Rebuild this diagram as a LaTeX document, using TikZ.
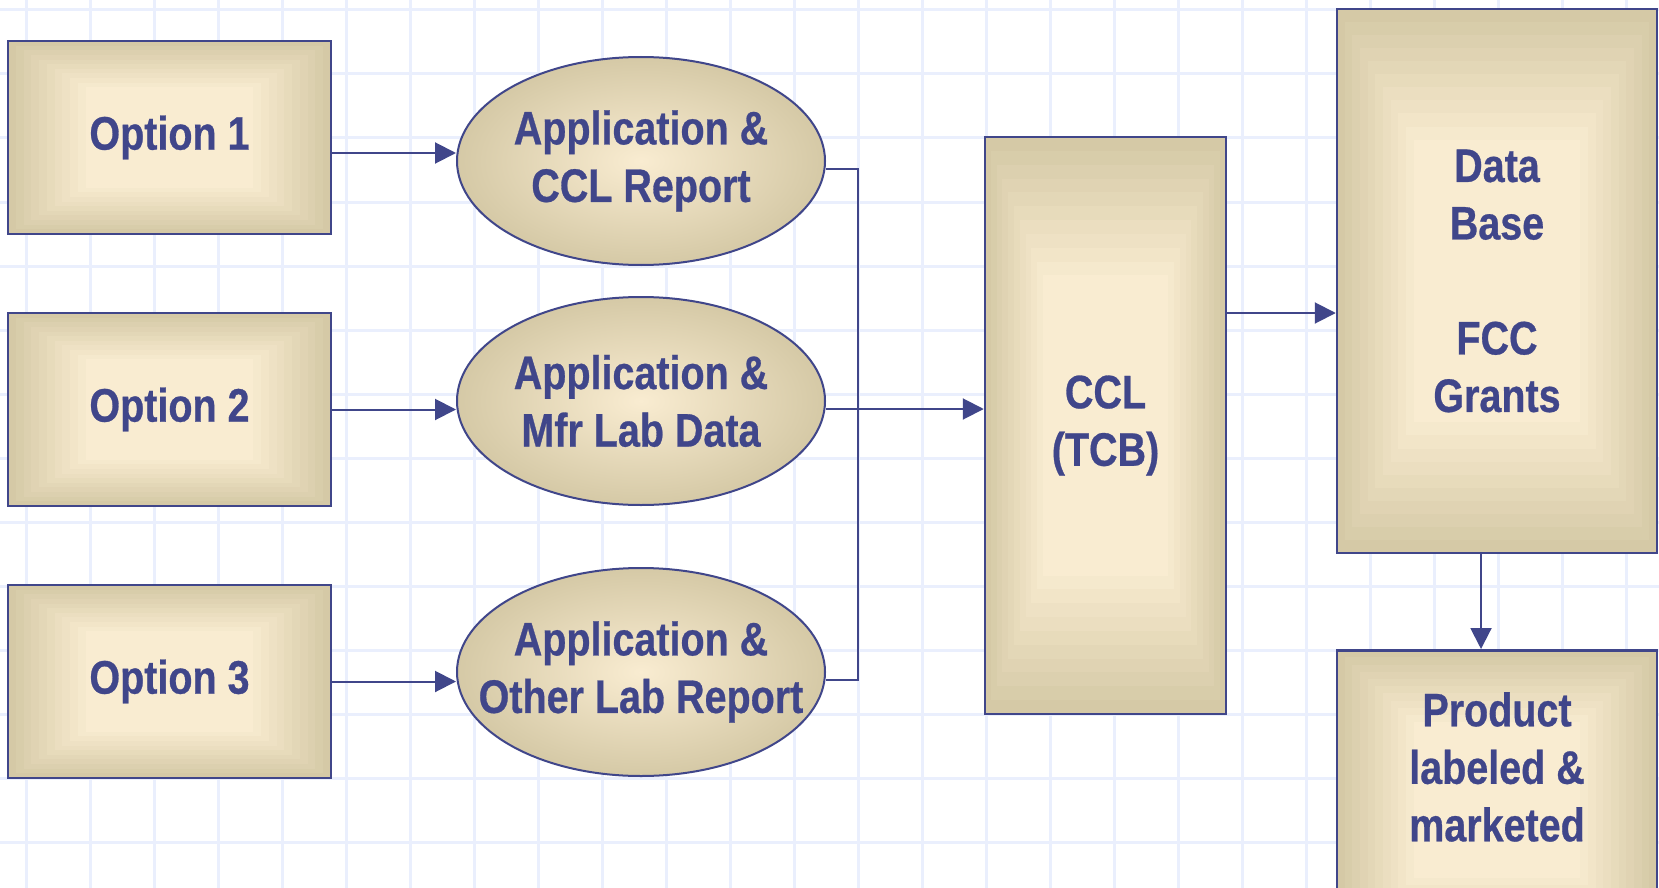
\documentclass[tikz,border=0pt]{standalone}
\usepackage{fontspec}
\newfontfamily\labelfont{Liberation Sans}[FakeStretch=0.84,BoldFeatures={FakeBold=0.6}]
\usetikzlibrary{shapes.geometric,arrows.meta,calc}
\definecolor{inkblue}{RGB}{64,70,138}
\definecolor{gridblue}{RGB}{234,239,253}
\definecolor{tanband}{RGB}{213,201,166}
\definecolor{creamband}{RGB}{249,236,209}
\tikzset{
  boxtext/.style={align=center,text=inkblue,inner sep=0pt,
    font=\labelfont\bfseries\fontsize{47}{57.5}\selectfont},
  bandbox/.style={boxtext,rectangle,draw=inkblue,line width=2.5pt,
    path picture={
      \foreach \k in {0,...,10}{
        \pgfmathsetmacro{\mix}{100-\k*10}
        \fill[tanband!\mix!creamband]
          ($(path picture bounding box.south west)!\k*0.024!(path picture bounding box.north east)$)
          rectangle
          ($(path picture bounding box.north east)!\k*0.024!(path picture bounding box.south west)$);
      }}},
  bandoval/.style={boxtext,ellipse,draw=inkblue,line width=2pt,
    inner xsep=-90pt,inner ysep=-20pt,
    inner color=creamband,outer color=tanband,
    minimum width=368pt,minimum height=208pt},
  wire/.style={inkblue,line width=2pt},
  flow/.style={wire,->},
  gridline/.style={gridblue,line width=3pt},
}
\begin{document}
\begin{tikzpicture}[>={Triangle[length=21pt,width=21pt]},x=1pt,y=-1pt]
  \clip (0,0) rectangle (1659,888);
  \fill[white] (0,0) rectangle (1659,888);
  % background grid
  \foreach \x in {26,90,...,1658}{
    \draw[gridline] (\x,0) -- (\x,888);
  }
  \foreach \y in {10,74,...,887}{
    \draw[gridline] (0,\y) -- (1659,\y);
  }
  % options
  \node[bandbox,minimum width=323pt,minimum height=193pt] (opt1) at (169.5,137.5) {Option 1};
  \node[bandbox,minimum width=323pt,minimum height=193pt] (opt2) at (169.5,409.5) {Option 2};
  \node[bandbox,minimum width=323pt,minimum height=193pt] (opt3) at (169.5,681.5) {Option 3};
  % applications
  \node[bandoval] (ell1) at (641,161) {Application \&\\CCL Report};
  \node[bandoval] (ell2) at (641,401) {Application \&\\Mfr Lab Data};
  \node[bandoval] (ell3) at (641,672) {Application \&\\Other Lab Report};
  % right part
  \node[bandbox,minimum width=241pt,minimum height=577pt] (ccl) at (1105.5,425.5) {CCL\\(TCB)};
  \node[bandbox,minimum width=320pt,minimum height=544pt] (db) at (1497,281) {Data\\Base\\[57.5pt]FCC\\Grants};
  \node[bandbox,minimum width=320pt,minimum height=300pt,anchor=north] (prod) at (1497,649) {};
  \node[boxtext] (prodtext) at (1497,767) {Product\\labeled \&\\marketed};
  % connectors
  \coordinate (join) at (858,409);
  \draw[flow] ([yshift=-15.5pt]opt1.east) -- ([yshift=-15.5pt]opt1.east -| ell1.west);
  \draw[flow] (opt2.east) -- (opt2.east -| ell2.west);
  \draw[flow] (opt3.east) -- (opt3.east -| ell3.west);
  \draw[wire] ([yshift=-8pt]ell1.east) -| (join) |- ([yshift=-8pt]ell3.east);
  \draw[flow] ([yshift=-8pt]ell2.east) -- (join -| ccl.west);
  \draw[flow] ([yshift=112.5pt]ccl.east) -- ([yshift=112.5pt]ccl.east -| db.west);
  \draw[flow] ([xshift=-16pt]db.south) -- ([xshift=-16pt]db.south |- prod.north);
\end{tikzpicture}
\end{document}
